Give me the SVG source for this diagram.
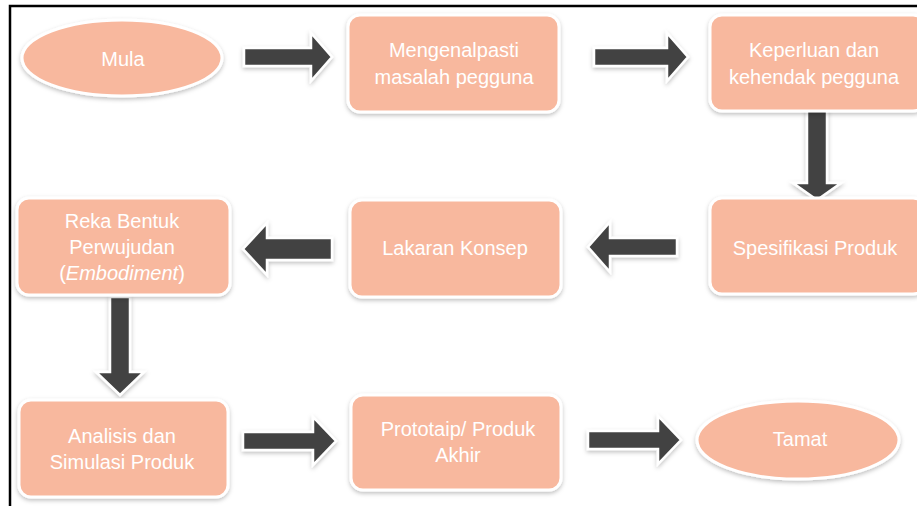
<svg xmlns="http://www.w3.org/2000/svg" width="917" height="506" viewBox="0 0 917 506">
<style>
.node{fill:#F8B89E;stroke:#fff;stroke-width:3;filter:url(#sh)}
.arr{fill:#434343;stroke:#fff;stroke-width:2.5;stroke-linejoin:miter;filter:url(#sh)}
.t{font-family:"Liberation Sans",Arial,sans-serif;font-size:20px;fill:#fff;text-anchor:middle}
</style>
<defs>
<filter id="sh" x="-20%" y="-20%" width="140%" height="150%">
<feDropShadow dx="0" dy="2" stdDeviation="2" flood-color="#000" flood-opacity="0.25"/>
</filter>
</defs>
<rect width="917" height="506" fill="#fff"/>
<path d="M10,506 V6 H917" fill="none" stroke="#000" stroke-width="2.5"/>
<g id="connectors">
<polygon class="arr" points="244,48 311,48 311,33 332,57 311,81 311,66 244,66"/>
<polygon class="arr" points="594,48 667,48 667,33 688,57 667,81 667,66 594,66"/>
<polygon class="arr" points="807,108 827,108 827,183 841,183 817,200 793,183 807,183"/>
<polygon class="arr" points="677,238 610,238 610,222 588,247 610,272 610,256 677,256"/>
<polygon class="arr" points="332,238 267,238 267,223 243,249 267,275 267,260 332,260"/>
<polygon class="arr" points="110,297 130,297 130,372 144,372 120,395 96,372 110,372"/>
<polygon class="arr" points="243,432 313,432 313,417 336,441 313,465 313,450 243,450"/>
<polygon class="arr" points="588,431 658,431 658,416 681,440 658,464 658,449 588,449"/>
</g>
<g id="mula"><ellipse class="node" cx="122" cy="58" rx="100" ry="38"/><text class="t" x="123" y="66">Mula</text></g>
<g id="mengenalpasti"><rect class="node" x="348" y="15" width="211" height="97" rx="12"/><text class="t" x="454" y="57">Mengenalpasti</text><text class="t" x="454" y="84">masalah pegguna</text></g>
<g id="keperluan"><rect class="node" x="710" y="15" width="215" height="96" rx="12"/><text class="t" x="814" y="57">Keperluan dan</text><text class="t" x="814" y="84">kehendak pegguna</text></g>
<g id="spesifikasi"><rect class="node" x="710" y="198" width="215" height="96" rx="12"/><text class="t" x="815" y="255">Spesifikasi Produk</text></g>
<g id="lakaran"><rect class="node" x="350" y="200" width="211" height="97" rx="12"/><text class="t" x="455" y="255">Lakaran Konsep</text></g>
<g id="reka"><rect class="node" x="17" y="198" width="213" height="97" rx="12"/><text class="t" x="122" y="228">Reka Bentuk</text><text class="t" x="122" y="254">Perwujudan</text><text class="t" x="122" y="280">(<tspan font-style="italic">Embodiment</tspan>)</text></g>
<g id="analisis"><rect class="node" x="19" y="400" width="209" height="97" rx="12"/><text class="t" x="122" y="443">Analisis dan</text><text class="t" x="122" y="469">Simulasi Produk</text></g>
<g id="prototaip"><rect class="node" x="351" y="395" width="210" height="95" rx="12"/><text class="t" x="458" y="436">Prototaip/ Produk</text><text class="t" x="458" y="462">Akhir</text></g>
<g id="tamat"><ellipse class="node" cx="798" cy="440" rx="101" ry="39"/><text class="t" x="800" y="446">Tamat</text></g>
</svg>
